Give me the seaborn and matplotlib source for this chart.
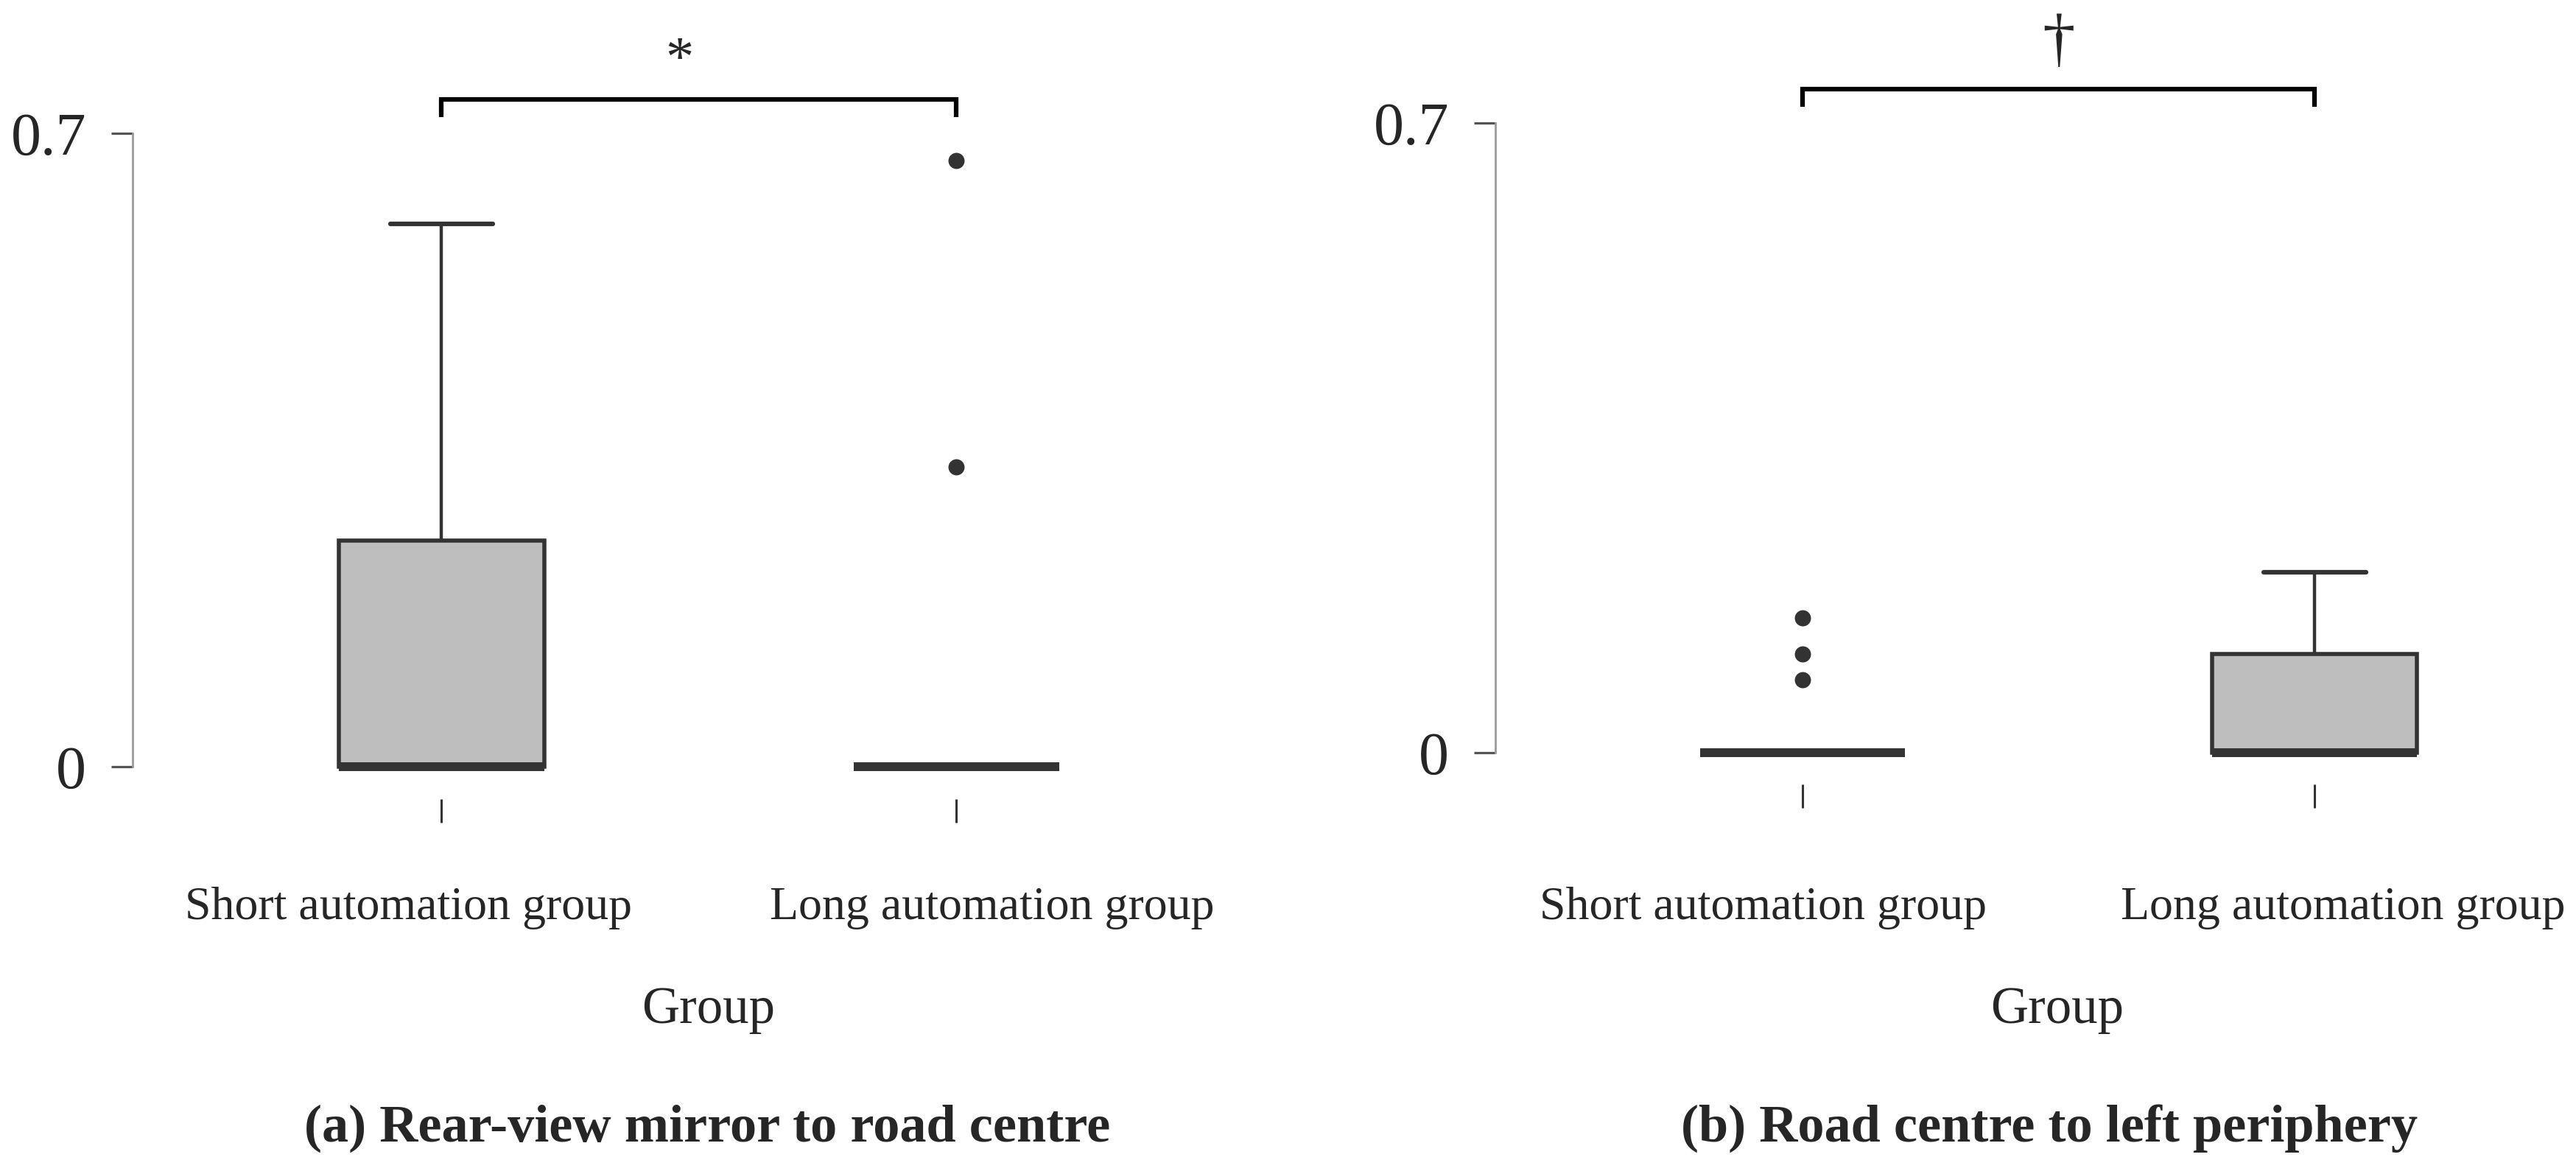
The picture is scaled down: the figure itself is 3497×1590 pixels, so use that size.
import pandas as pd
import matplotlib
matplotlib.use("Agg")
import matplotlib.pyplot as plt
import matplotlib.transforms as mtransforms
import seaborn as sns

# -----------------------------
# Data
# -----------------------------
groups = ["Short automation group", "Long automation group"]

# (a) Rear-view mirror to road centre
a_short = [0, 0, 0, 0, 0, 0, 0, 0.05, 0.15, 0.25, 0.33, 0.45, 0.60]
a_long = [0, 0, 0, 0, 0, 0, 0, 0, 0, 0, 0, 0.331, 0.670]

# (b) Road centre to left periphery
b_short = [0, 0, 0, 0, 0, 0, 0, 0, 0, 0, 0.081, 0.110, 0.150]
b_long = [0, 0, 0, 0, 0, 0, 0, 0.03, 0.07, 0.110, 0.14, 0.17, 0.201]

panel_titles = ["(a) Rear-view mirror to road centre",
                "(b) Road centre to left periphery"]
sig_marks = ["*", "\u2020"]
y_ticks = [0, 0.7]
y_tick_labels = ["0", "0.7"]


def long_form(short, long_):
    return pd.DataFrame({
        "Group": [groups[0]] * len(short) + [groups[1]] * len(long_),
        "value": short + long_,
    })


sns.set_style("ticks")
plt.rcParams["font.family"] = ["Liberation Serif", "DejaVu Serif"]

W, H = 3497, 1590
fig = plt.figure(figsize=(W / 100, H / 100), dpi=100)


def px_rect(x0, top, w, h):
    return [x0 / W, 1 - (top + h) / H, w / W, h / H]


box_fill = "#bebebe"
line_col = "#333333"

panels = [
    dict(df=long_form(a_short, a_long), rect=px_rect(180, 119.6, 1468, 965),
         xpad=62.9, lab_dx=[-45, 48], group_x=0.518, title_x=0.516,
         mark_x=0.462, mark_y=0.764, mark_size=55),
    dict(df=long_form(b_short, b_long), rect=px_rect(2030, 105.9, 1459.5, 959.5),
         xpad=76.7, lab_dx=[-54, 39], group_x=0.498, title_x=0.482,
         mark_x=0.5, mark_y=0.770, mark_size=64),
]

for i, p in enumerate(panels):
    ax = fig.add_axes(p["rect"])
    sns.boxplot(
        data=p["df"], x="Group", y="value", order=groups, ax=ax,
        width=0.4, color=box_fill, linecolor=line_col, linewidth=4,
        saturation=1, whis=1.5, fliersize=15.8,
        medianprops=dict(linewidth=8.6, color=line_col),
        whiskerprops=dict(linewidth=3.2, color=line_col),
        capprops=dict(linewidth=4.5, color=line_col),
        flierprops=dict(marker="o", markerfacecolor=line_col,
                        markeredgecolor=line_col, markeredgewidth=0,
                        markersize=15.8),
    )
    ax.set_xlim(-0.6, 1.5)
    ax.set_ylim(-0.0355, 0.75)

    # R-style axes: only a trimmed left spine, floating x ticks
    for side in ["top", "right", "bottom"]:
        ax.spines[side].set_visible(False)
    ax.spines["left"].set_bounds(0, 0.7)
    ax.spines["left"].set_color("#9a9a9a")
    ax.spines["left"].set_linewidth(2)

    ax.set_yticks(y_ticks, labels=y_tick_labels)
    ax.tick_params(axis="y", length=20.9, width=2.3, color="#555555",
                   pad=24.5, labelsize=59)
    ax.tick_params(axis="x", length=23, width=2.2, color=line_col,
                   pad=p["xpad"], labelsize=46)

    ax.set_ylabel("")
    ax.set_xlabel("Group", fontsize=51)
    mixed = mtransforms.blended_transform_factory(ax.transData, fig.transFigure)
    ax.xaxis.set_label_coords(p["group_x"], 1 - 1339.5 / H, transform=mixed)

    # category labels sit slightly apart from their ticks
    for lab, dx in zip(ax.get_xticklabels(), p["lab_dx"]):
        lab.set_transform(lab.get_transform() +
                          mtransforms.ScaledTranslation(dx / 100, 0, fig.dpi_scale_trans))

    # significance bracket
    ax.plot([0, 0, 1, 1], [0.718, 0.7375, 0.7375, 0.718], color="black",
            lw=4.5, clip_on=False, solid_joinstyle="miter", solid_capstyle="butt")
    ax.text(p["mark_x"], p["mark_y"], sig_marks[i], ha="center", va="baseline",
            fontsize=p["mark_size"], clip_on=False)

    # panel caption
    ax.text(p["title_x"], 1 - 1550 / H, panel_titles[i], transform=mixed,
            ha="center", va="baseline", fontsize=52, fontweight="bold")

fig.savefig("out.png", dpi=100)
